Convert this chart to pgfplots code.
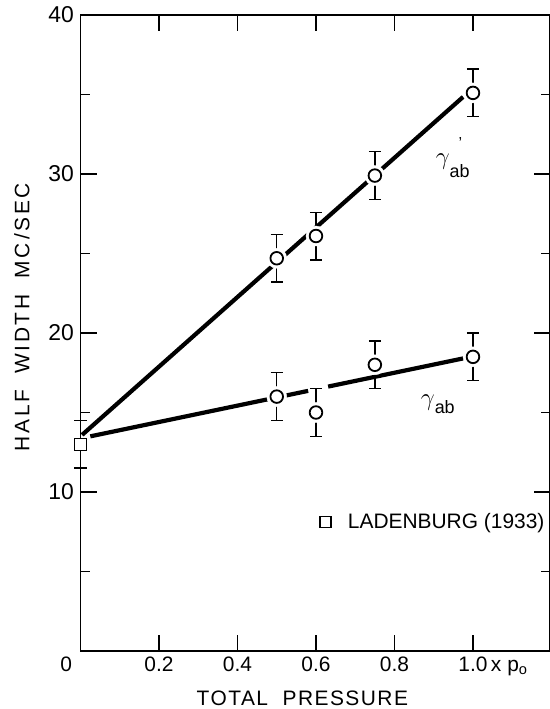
\documentclass[border=0pt]{standalone}
\usepackage{fontspec}
\setmainfont{Liberation Sans}
\usepackage{pgfplots}
\pgfplotsset{compat=1.18}
\pgfplotstableread{
x y e
0.5 24.7 1.5
0.6 26.1 1.5
0.75 29.9 1.5
1.0 35.1 1.5
}\upperdata
\pgfplotstableread{
x y e
0.5 16.0 1.5
0.6 15.0 1.5
0.75 18.0 1.5
1.0 18.5 1.5
}\lowerdata
\pgfplotstableread{
x y e
0.0 13.0 1.5
}\ladendata
\newcommand\lbl{\fontsize{21}{21}\selectfont}
\begin{document}
\begin{tikzpicture}
\useasboundingbox (0,0) rectangle (550bp,709bp);
\begin{axis}[
  at={(80.5bp,58bp)}, anchor=south west,
  width=469bp, height=636bp, scale only axis,
  xmin=0, xmax=1.195, ymin=0, ymax=40,
  clip=false,
  axis line style={line width=1.6bp},
  every tick/.style={line width=1.4bp, black},
  tick align=inside,
  major tick length=16bp, minor tick length=9bp,
  xtick={0,0.2,0.4,0.6,0.8,1.0},
  xticklabels={{\makebox[0pt][r]{0\hspace{8.5bp}}},0.2,0.4,0.6,0.8,{1.0\rlap{\,x p\textsubscript{o}}}},
  ytick={10,20,30,40},
  yticklabels={10,20,30,40},
  minor ytick={5,15,25,35},
  /pgf/number format/assume math mode=true,
  ticklabel style={font=\lbl},
  xticklabel style={yshift=-2bp},
  yticklabel style={xshift=-3bp, font=\fontsize{23}{23}\selectfont},
  xlabel={\addfontfeature{LetterSpace=7}TOTAL\ \ PRESSURE},
  ylabel={\addfontfeature{LetterSpace=12}HALF\ \ WIDTH\ \ MC\,/SEC},
  every axis y label/.style={at={(axis description cs:-0.125,0.525)}, rotate=90, anchor=center, font=\lbl},
  every axis x label/.style={at={(axis description cs:0.473,0)}, yshift=-47bp, anchor=center, font=\lbl},
  legend style={at={(axis description cs:0.509,0.203)}, anchor=west, draw=none, fill=none, inner sep=0pt, outer sep=0pt, font=\lbl, nodes={inner sep=0pt}},
  legend image code/.code={\draw[line width=1.4bp, fill=white, draw=black, solid] (0bp,-5.5bp) rectangle (11bp,5.5bp); \path[draw=none, fill=none] (0bp,-0.1bp) rectangle (28bp,0.1bp);},
]
% fitted lines
\addplot[forget plot, black, line width=4.2bp] coordinates {(0.004,13.59) (0.975,34.85)};
\addplot[forget plot, black, line width=4.2bp] coordinates {(0.025,13.5) (0.580,16.36)};
\addplot[forget plot, black, line width=4.2bp] coordinates {(0.631,16.63) (1.0,18.53)};
% white halos around points
\addplot[forget plot, only marks, mark=*, mark size=10bp, mark options={draw=white, fill=white}] table[x=x,y=y] {\upperdata};
\addplot[forget plot, only marks, mark=*, mark size=10bp, mark options={draw=white, fill=white}] table[x=x,y=y] {\lowerdata};
% data with error bars
\addplot[forget plot, only marks, black, mark=*, mark size=6.3bp, mark options={line width=1.8bp, fill=white, draw=black},
  error bars/.cd, y dir=both, y explicit, error bar style={line width=1.3bp, black},
  error mark options={rotate=90, mark size=6bp, line width=1.3bp, black}]
  table[x=x, y=y, y error=e] {\upperdata};
\addplot[forget plot, only marks, black, mark=*, mark size=6.3bp, mark options={line width=1.8bp, fill=white, draw=black},
  error bars/.cd, y dir=both, y explicit, error bar style={line width=1.3bp, black},
  error mark options={rotate=90, mark size=6bp, line width=1.3bp, black}]
  table[x=x, y=y, y error=e] {\lowerdata};
\addplot[only marks, black, mark=square*, mark size=6bp, mark options={line width=1.5bp, fill=white, draw=black},
  error bars/.cd, y dir=both, y explicit, error bar style={line width=1.3bp, black},
  error mark options={rotate=90, mark size=6bp, line width=1.3bp, black}]
  table[x=x, y=y, y error=e] {\ladendata};
\addlegendentry{LADENBURG (1933)}
% curve labels
\node[anchor=base east, inner sep=0pt] at (axis cs:0.992,30.57)
  {\fontsize{25}{25}\selectfont$\gamma$\raisebox{-13bp}{\fontsize{18}{18}\selectfont a\rlap{\hspace{-1bp}\raisebox{29bp}{\fontsize{16}{16}\selectfont '}}b}};
\node[anchor=base east, inner sep=0pt] at (axis cs:0.954,15.47)
  {\fontsize{25}{25}\selectfont$\gamma$\raisebox{-8bp}{\fontsize{18}{18}\selectfont ab}};
\end{axis}
\end{tikzpicture}
\end{document}
